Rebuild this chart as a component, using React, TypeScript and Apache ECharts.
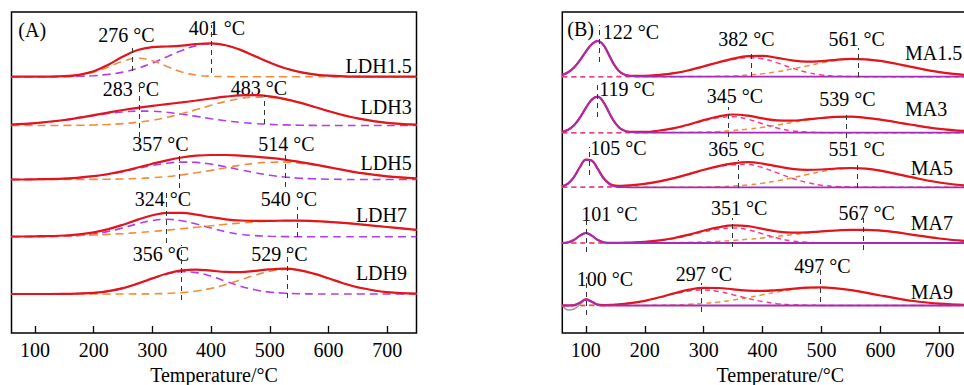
import React, { useEffect, useRef } from "react";
import * as echarts from "echarts";

// ---------- DATA ----------
const tempsA = [60, 100, 150, 175, 200, 225, 250, 275, 300, 325, 350, 375, 400, 425, 450, 475, 500, 525, 550, 575, 600, 625, 650, 700, 750];
const ldhNames = ["LDH1.5", "LDH3", "LDH5", "LDH7", "LDH9"];
const ldhPurple = [
  [0, 0, 0.1, 0.4, 1.0, 2.3, 4.6, 8.3, 13.6, 20.0, 26.3, 31.1, 33.0, 31.4, 26.8, 20.5, 14.1, 8.7, 4.8, 2.4, 1.1, 0.4, 0.1, 0, 0],
  [0.9, 2.3, 5.4, 7.6, 9.9, 12.0, 13.6, 14.4, 14.3, 13.2, 11.3, 9.1, 6.8, 4.7, 3.1, 1.9, 1.1, 0.6, 0.3, 0.1, 0, 0, 0, 0, 0],
  [0, 0.2, 0.9, 1.8, 3.2, 5.2, 7.9, 11.0, 14.0, 16.3, 17.4, 17.1, 15.4, 12.7, 9.6, 6.7, 4.3, 2.5, 1.3, 0.7, 0.3, 0.1, 0, 0, 0],
  [0, 0, 0.4, 1.2, 2.7, 5.3, 8.9, 13.0, 16.2, 17.4, 16.0, 12.7, 8.6, 5.0, 2.5, 1.1, 0.4, 0.1, 0, 0, 0, 0, 0, 0, 0],
  [0, 0, 0.1, 0.5, 1.2, 2.9, 5.9, 10.3, 15.4, 19.9, 22.2, 21.4, 17.7, 12.7, 7.8, 4.2, 1.9, 0.8, 0.3, 0.1, 0, 0, 0, 0, 0],
];
const ldhOrange = [
  [0, 0, 0.4, 1.5, 4.4, 9.7, 15.6, 18.4, 16.0, 10.2, 4.8, 1.6, 0.4, 0.1, 0, 0, 0, 0, 0, 0, 0, 0, 0, 0, 0],
  [0, 0, 0.1, 0.2, 0.5, 1.0, 1.9, 3.3, 5.3, 8.2, 11.8, 15.9, 20.2, 24.1, 27.0, 28.4, 28.1, 26.1, 22.8, 18.7, 14.4, 10.4, 7.1, 2.7, 0.8],
  [0, 0, 0, 0.1, 0.1, 0.3, 0.5, 1.0, 1.8, 2.9, 4.6, 6.7, 9.1, 11.8, 14.3, 16.2, 17.3, 17.4, 16.4, 14.5, 12.1, 9.5, 6.9, 3.1, 1.1],
  [0.2, 0.4, 0.8, 1.2, 1.7, 2.3, 3.1, 4.1, 5.2, 6.5, 7.9, 9.4, 10.9, 12.4, 13.7, 14.7, 15.5, 15.9, 16.0, 15.6, 14.9, 13.9, 12.6, 9.7, 6.8],
  [0, 0, 0, 0, 0, 0, 0, 0.1, 0.2, 0.6, 1.4, 3.0, 5.6, 9.4, 14.1, 18.9, 22.7, 24.5, 23.6, 20.3, 15.7, 10.8, 6.7, 1.8, 0.3],
];
const ldhPeakTemps = [[266, 400], [278, 491], [346, 527], [323, 547], [350, 530]];
const ldhPeakLabels = [["276 °C", "401 °C"], ["283 °C", "483 °C"], ["357 °C", "514 °C"], ["324 °C", "540 °C"], ["356 °C", "529 °C"]];

const tempsB = [60, 70, 80, 90, 100, 110, 120, 130, 140, 150, 160, 175, 200, 225, 250, 275, 300, 325, 350, 375, 400, 425, 450, 475, 500, 525, 550, 575, 600, 625, 650, 700, 750];
const maNames = ["MA1.5", "MA3", "MA5", "MA7", "MA9"];
const maLow = [
  [1.8, 4.5, 9.3, 16.5, 25.1, 32.4, 35.7, 31.6, 20.8, 10.2, 3.7, 0.5, 0, 0, 0, 0, 0, 0, 0, 0, 0, 0, 0, 0, 0, 0, 0, 0, 0, 0, 0, 0, 0],
  [1.0, 3.0, 7.5, 15.1, 24.8, 33.1, 36.0, 30.4, 19.5, 9.5, 3.5, 0.5, 0, 0, 0, 0, 0, 0, 0, 0, 0, 0, 0, 0, 0, 0, 0, 0, 0, 0, 0, 0, 0],
  [1.0, 3.8, 10.4, 20.2, 27.5, 26.6, 18.2, 8.8, 3.0, 0.7, 0.1, 0, 0, 0, 0, 0, 0, 0, 0, 0, 0, 0, 0, 0, 0, 0, 0, 0, 0, 0, 0, 0, 0],
  [0.1, 0.7, 3.1, 7.4, 10.0, 7.4, 3.1, 0.7, 0.1, 0, 0, 0, 0, 0, 0, 0, 0, 0, 0, 0, 0, 0, 0, 0, 0, 0, 0, 0, 0, 0, 0, 0, 0],
  [0, 0, 0.4, 2.8, 6.0, 3.6, 0.6, 0, 0, 0, 0, 0, 0, 0, 0, 0, 0, 0, 0, 0, 0, 0, 0, 0, 0, 0, 0, 0, 0, 0, 0, 0, 0],
];
const maPink = [
  [0, 0, 0, 0, 0, 0, 0, 0, 0, 0.1, 0.2, 0.3, 0.8, 1.8, 3.6, 6.4, 10.1, 14.0, 17.3, 18.9, 17.9, 13.8, 8.6, 4.4, 1.8, 0.6, 0.2, 0, 0, 0, 0, 0, 0],
  [0, 0, 0, 0, 0, 0, 0, 0, 0, 0, 0.1, 0.3, 0.8, 2.1, 4.4, 7.9, 11.9, 15.0, 16.0, 13.5, 8.9, 4.6, 1.8, 0.6, 0.1, 0, 0, 0, 0, 0, 0, 0, 0],
  [0, 0.1, 0.1, 0.1, 0.2, 0.3, 0.4, 0.5, 0.7, 0.9, 1.3, 1.9, 3.5, 5.9, 9.2, 13.1, 17.2, 20.6, 22.6, 22.7, 19.6, 14.4, 9.0, 4.8, 2.1, 0.8, 0.3, 0.1, 0, 0, 0, 0, 0],
  [0, 0, 0, 0, 0, 0, 0, 0, 0, 0.1, 0.2, 0.4, 1.0, 2.4, 4.6, 7.7, 11.2, 13.9, 15.0, 13.2, 9.1, 4.9, 2.0, 0.7, 0.2, 0, 0, 0, 0, 0, 0, 0, 0],
  [0, 0, 0, 0.1, 0.1, 0.2, 0.3, 0.4, 0.6, 0.9, 1.3, 2.2, 4.6, 7.9, 11.6, 14.6, 15.5, 14.0, 10.8, 7.0, 3.9, 1.8, 0.7, 0.3, 0.1, 0, 0, 0, 0, 0, 0, 0, 0],
];
const maOrange = [
  [0, 0, 0, 0, 0, 0, 0, 0, 0, 0, 0, 0, 0, 0, 0, 0.1, 0.2, 0.4, 0.8, 1.7, 3.0, 5.0, 7.7, 10.7, 13.8, 16.3, 17.6, 17.4, 15.8, 13.2, 10.1, 4.6, 1.5],
  [0, 0, 0, 0, 0, 0, 0, 0, 0, 0, 0, 0, 0, 0.1, 0.2, 0.3, 0.7, 1.2, 2.2, 3.5, 5.4, 7.7, 10.2, 12.7, 14.6, 15.8, 16.0, 14.9, 13.1, 10.7, 8.2, 3.9, 1.4],
  [0, 0, 0, 0, 0, 0, 0, 0, 0, 0, 0, 0, 0, 0, 0, 0.1, 0.3, 0.6, 1.3, 2.4, 4.1, 6.5, 9.5, 12.7, 15.7, 18.0, 19.0, 18.5, 16.6, 13.7, 10.5, 4.8, 1.6],
  [0, 0, 0, 0, 0, 0, 0, 0, 0, 0, 0, 0.1, 0.1, 0.2, 0.4, 0.7, 1.1, 1.7, 2.6, 3.7, 5.1, 6.6, 8.3, 9.9, 11.4, 12.5, 13.2, 13.2, 12.4, 10.8, 8.7, 4.5, 1.7],
  [0, 0, 0, 0, 0, 0, 0, 0, 0, 0, 0, 0.1, 0.1, 0.3, 0.6, 1.2, 2.1, 3.5, 5.4, 7.9, 10.7, 13.5, 15.9, 17.5, 18.0, 17.2, 15.4, 12.8, 10.0, 7.3, 4.9, 1.8, 0.5],
];
// visible part of the measured (grey) MA9 curve that departs from the fit
const ma9GreyTemps = [60, 70, 80, 90, 100, 110, 120, 130];
const ma9Grey = [0, -4.5, -3.5, 1.0, 5.8, 3.8, 0.9, 0.2];
const maPeakTemps = [[122, 380, 563], [119, 342, 542], [106, 358, 561], [100, 349, 571], [100, 296, 497]];
const maPeakLabels = [
  ["122 °C", "382 °C", "561 °C"],
  ["119 °C", "345 °C", "539 °C"],
  ["105 °C", "365 °C", "551 °C"],
  ["101 °C", "351 °C", "567 °C"],
  ["100 °C", "297 °C", "497 °C"],
];
const tickValues = [100, 200, 300, 400, 500, 600, 700];

// ---------- LAYOUT ----------
const FONT = '"Liberation Serif", "Times New Roman", serif';
const PLOT_TOP = 12;
const PLOT_H = 321;
const BOTTOM = PLOT_TOP + PLOT_H;
const toV = (px: number) => BOTTOM - px;
const ldhBase = [76.7, 125.5, 179.5, 236.7, 294];
const maBase = [76.7, 132.7, 187.3, 243, 305.5];
const ldhSpan = [[[46, 71], [25, 73]], [[83, 137], [95, 124]], [[152, 188], [150, 187]], [[193, 243], [207, 237]], [[245, 300], [247, 298]]];
const maSpan = [
  [[25, 62], [50, 77], [48, 77]],
  [[85, 117], [107, 137], [112, 147]],
  [[147, 175], [160, 188], [163, 188]],
  [[220, 252], [218, 247], [215, 250]],
  [[277, 315], [283, 312], [267, 302]],
];
const ldhLabelPos = [[[126.5, 34.5], [217, 27.5]], [[131, 89], [259, 87.5]], [[160.5, 144], [286.3, 144]], [[163, 199], [288.8, 199]], [[161, 254], [279.5, 254]]];
const ldhNamePos = [[411.7, 65.5], [411.7, 106.5], [411.7, 162.5], [407, 215], [407, 273]];
const maLabelPos = [
  [[630.8, 31.7], [746.3, 39], [856.7, 39]],
  [[627, 89], [734.8, 96], [847.5, 99]],
  [[618.3, 147.5], [736.3, 149], [856.7, 149]],
  [[609.5, 214], [739.2, 207.5], [866.7, 212.5]],
  [[605, 279], [704, 274], [822.5, 266]],
];
const maNamePos = [[905, 52.5], [905, 109], [910.7, 167.5], [910.7, 222.5], [910.7, 291.5]];

const RED = "#e2141c";
const VIOLET = "#b23ce6";
const ORANGE = "#f28c3c";
const MAGENTA = "#a92ab9";
const PINK = "#ee3f8f";

function text(t: string, x: number, y: number, align = "center") {
  return {
    type: "text",
    x,
    y,
    silent: true,
    style: {
      text: t,
      fill: "#000",
      font: `20px ${FONT}`,
      align,
      verticalAlign: "middle",
      textAlign: align,
      textVerticalAlign: "middle",
    },
  };
}

function buildOption() {
  const series: any[] = [];
  const line = (temps: number[], vals: number[], off: number, axis: number, color: string, width: number, type: any, z: number) => ({
    type: "line",
    xAxisIndex: axis,
    yAxisIndex: axis,
    data: temps.map((t, i) => [t, off + vals[i]]),
    showSymbol: false,
    symbol: "none",
    smooth: 0.4,
    lineStyle: { color, width, type },
    z,
    silent: true,
  });
  const marks = (temps: number[], spans: number[][]) => ({
    silent: true,
    symbol: ["none", "none"],
    label: { show: false },
    lineStyle: { color: "#333", width: 1, type: [5, 4] },
    data: temps.map((t, k) => [{ coord: [t, toV(spans[k][1])] }, { coord: [t, toV(spans[k][0])] }]),
  });

  ldhNames.forEach((_, s) => {
    const off = toV(ldhBase[s]);
    series.push(line(tempsA, ldhPurple[s], off, 0, VIOLET, 1.6, [8, 5], 2));
    series.push(line(tempsA, ldhOrange[s], off, 0, ORANGE, 1.6, [8, 5], 2));
    const total = tempsA.map((_, i) => ldhPurple[s][i] + ldhOrange[s][i]);
    const red = line(tempsA, total, off, 0, RED, 2.2, "solid", 3);
    (red as any).markLine = marks(ldhPeakTemps[s], ldhSpan[s]);
    series.push(red);
  });

  maNames.forEach((_, s) => {
    const off = toV(maBase[s]);
    if (s === 4) series.push(line(ma9GreyTemps, ma9Grey, off, 1, "#9a9a9a", 1.4, "solid", 1));
    series.push(line(tempsB, maOrange[s], off, 1, ORANGE, 1.5, [5, 4], 2));
    series.push(line(tempsB, maPink[s], off, 1, PINK, 1.5, [5, 4], 2));
    const total = tempsB.map((_, i) => maLow[s][i] + maPink[s][i] + maOrange[s][i]);
    const red = line(tempsB, total, off, 1, RED, 2.2, "solid", 3);
    (red as any).markLine = marks(maPeakTemps[s], maSpan[s]);
    series.push(red);
    series.push(line(tempsB, maLow[s], off, 1, MAGENTA, 1.8, "solid", 4));
  });

  const graphics: any[] = [];
  graphics.push(text("(A)", 18.3, 30, "left"));
  graphics.push(text("(B)", 567.3, 29, "left"));
  ldhNames.forEach((n, s) => {
    graphics.push(text(n, ldhNamePos[s][0], ldhNamePos[s][1], "right"));
    ldhPeakLabels[s].forEach((l, k) => graphics.push(text(l, ldhLabelPos[s][k][0], ldhLabelPos[s][k][1])));
  });
  maNames.forEach((n, s) => {
    graphics.push(text(n, maNamePos[s][0], maNamePos[s][1], "left"));
    maPeakLabels[s].forEach((l, k) => graphics.push(text(l, maLabelPos[s][k][0], maLabelPos[s][k][1])));
  });

  const xAxis = (gridIndex: number, max: number) => ({
    type: "value",
    gridIndex,
    min: 60,
    max,
    axisLine: { show: false },
    splitLine: { show: false },
    axisTick: { show: true, inside: true, length: 7, lineStyle: { color: "#000", width: 1.3 }, customValues: tickValues },
    axisLabel: { show: true, customValues: tickValues, margin: 7, color: "#000", fontSize: 20, fontFamily: FONT },
    name: "Temperature/°C",
    nameLocation: "middle",
    nameGap: 31,
    nameTextStyle: { color: "#000", fontSize: 20, fontFamily: FONT },
  });
  const yAxis = (gridIndex: number) => ({ type: "value", gridIndex, min: 0, max: PLOT_H, show: false });

  return {
    animation: false,
    backgroundColor: "#fff",
    grid: [
      { left: 11.5, top: PLOT_TOP, width: 405, height: PLOT_H, outerBoundsMode: "none", containLabel: false, show: true, borderColor: "#000", borderWidth: 1.5, backgroundColor: "transparent" },
      { left: 562.3, top: PLOT_TOP, width: 436, height: PLOT_H, outerBoundsMode: "none", containLabel: false, show: true, borderColor: "#000", borderWidth: 1.5, backgroundColor: "transparent" },
    ],
    xAxis: [xAxis(0, 750), xAxis(1, 800)],
    yAxis: [yAxis(0), yAxis(1)],
    series,
    graphic: graphics,
  };
}

export default function App() {
  const ref = useRef<HTMLDivElement>(null);
  useEffect(() => {
    document.body.style.margin = "0";
    if (!ref.current) return;
    const chart = echarts.init(ref.current, undefined, { renderer: "svg" });
    chart.setOption(buildOption() as any);
    return () => chart.dispose();
  }, []);
  return <div ref={ref} style={{ width: 964, height: 385 }} />;
}
